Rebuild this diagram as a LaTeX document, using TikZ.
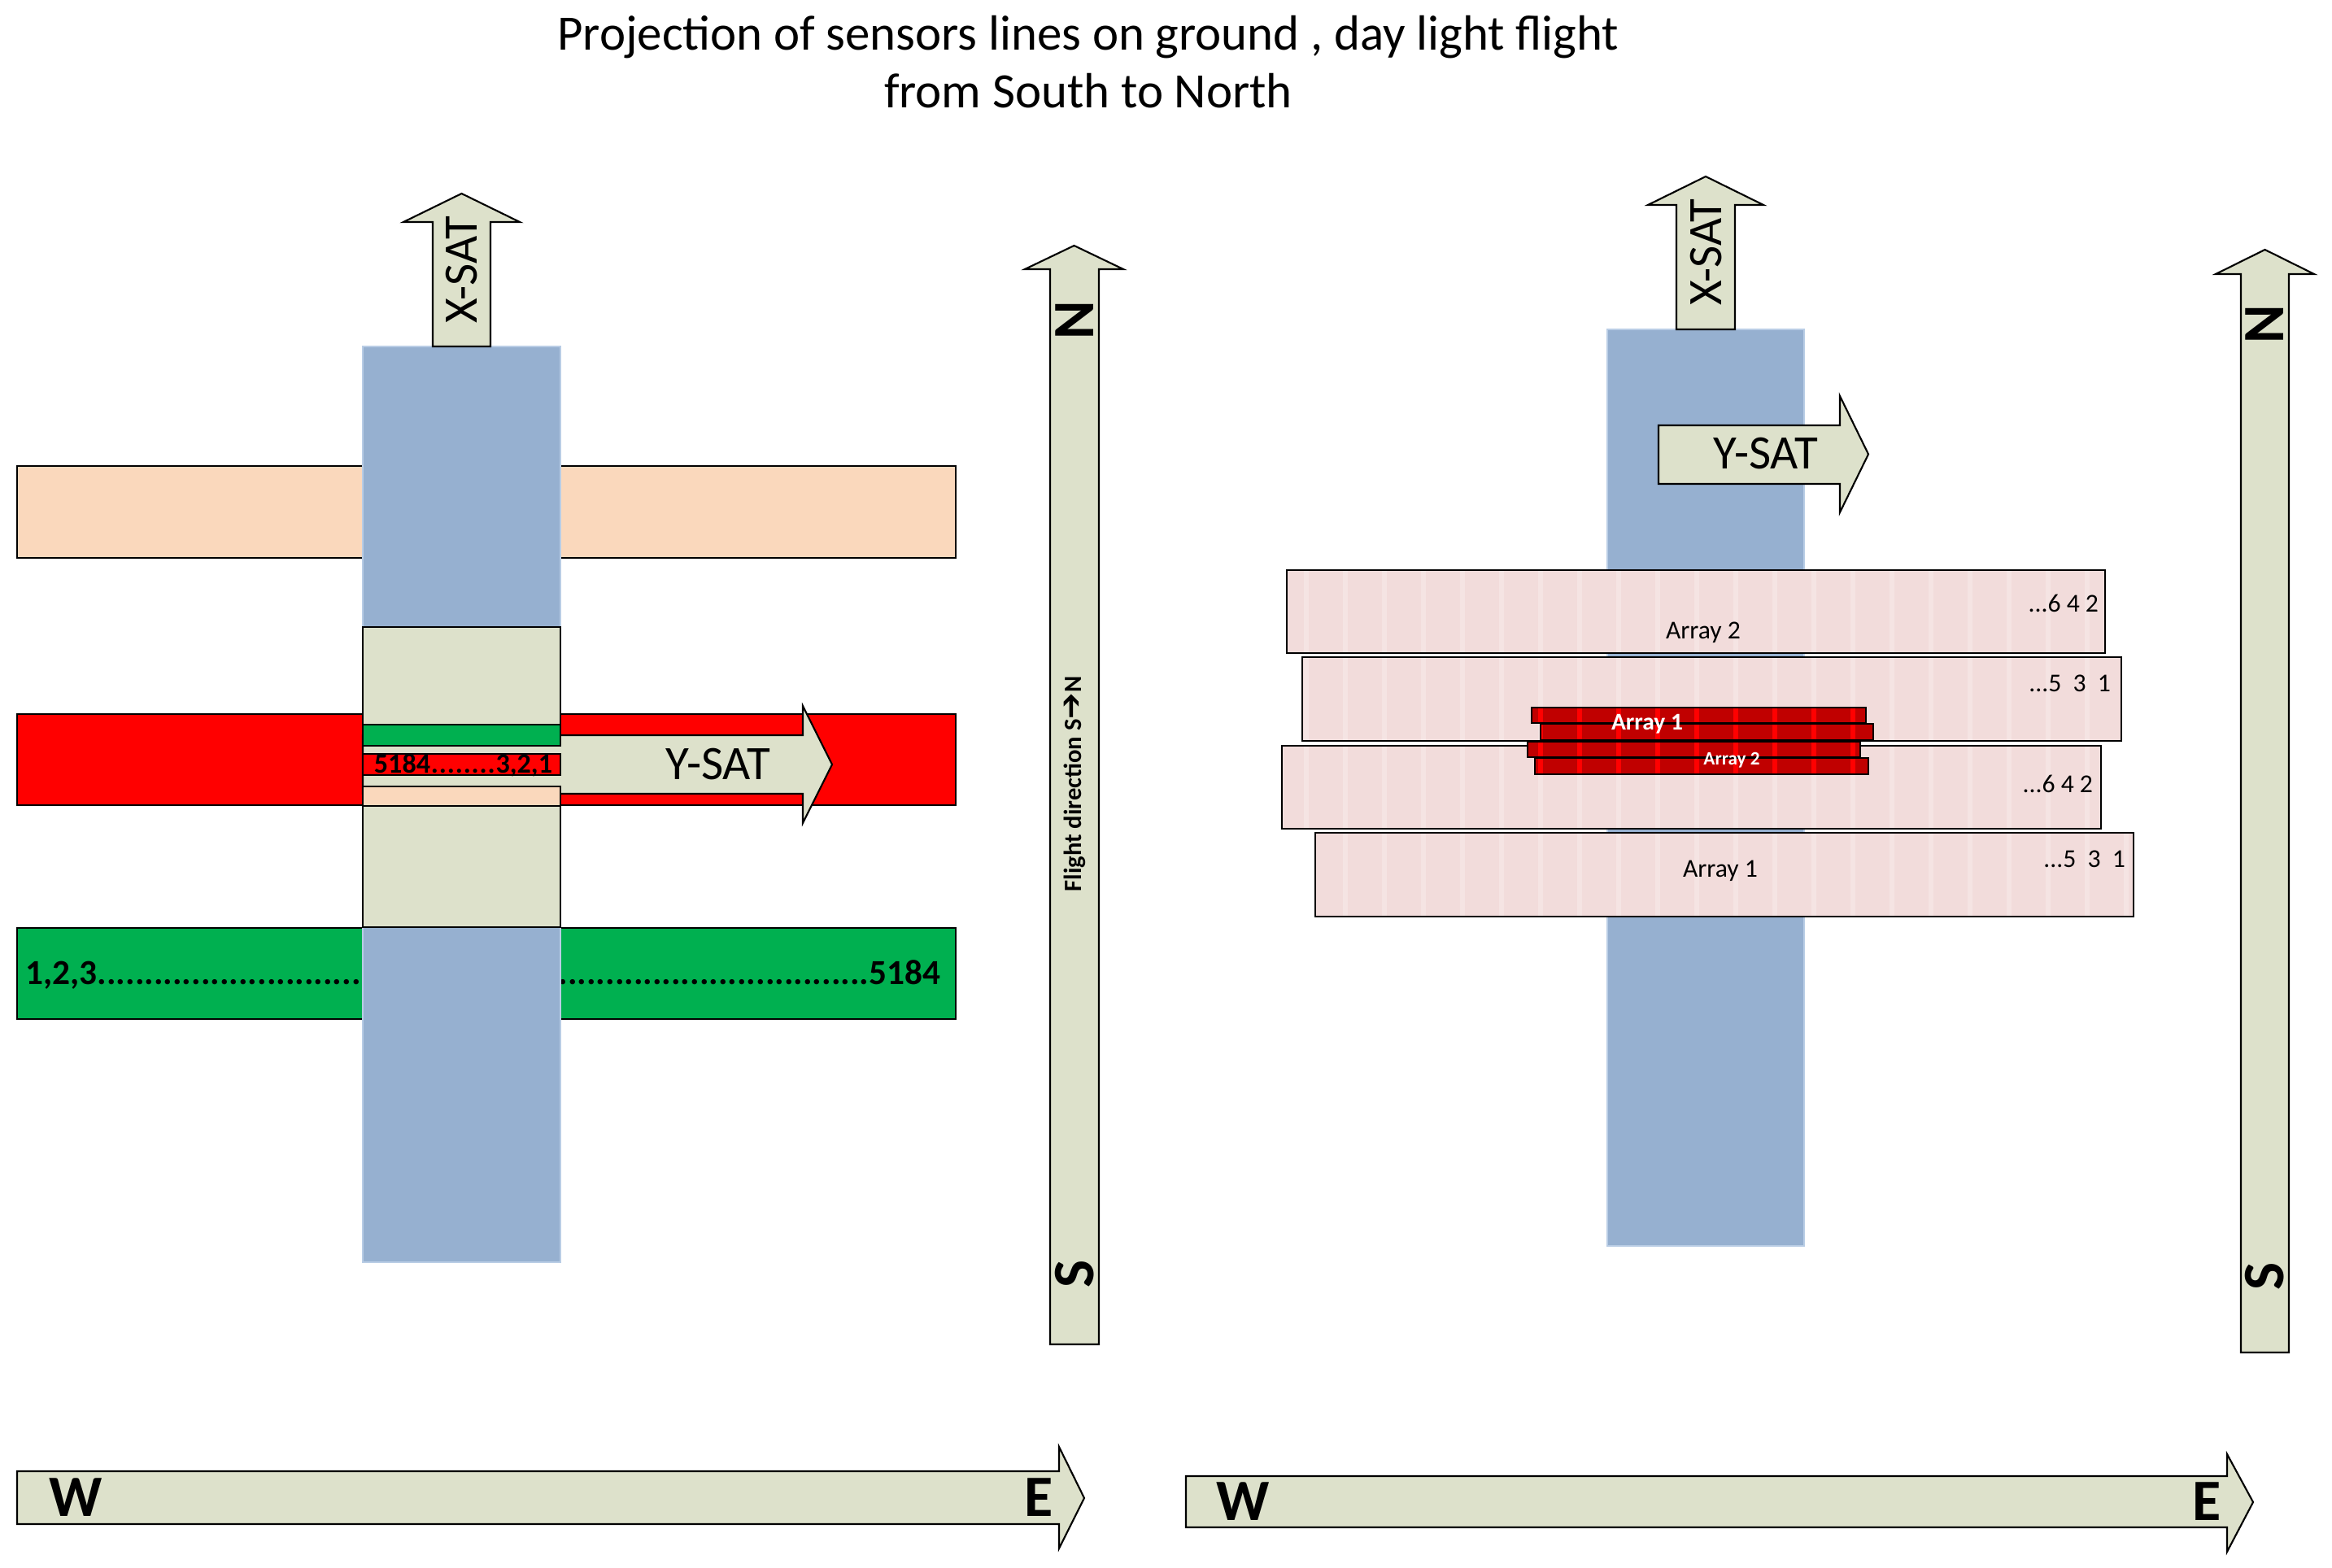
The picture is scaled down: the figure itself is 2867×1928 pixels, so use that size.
\documentclass[tikz,border=0pt]{standalone}
\usepackage{fontspec}
\setmainfont{Carlito}
\newfontfamily\dejavu{DejaVu Sans}
\definecolor{beige}{HTML}{DDE1CB}
\definecolor{bluecol}{HTML}{96B0D0}
\definecolor{bluebord}{HTML}{B9CDE5}
\definecolor{peach}{HTML}{FAD8BC}
\definecolor{redbar}{HTML}{FF0000}
\definecolor{greenbar}{HTML}{00B050}
\definecolor{pinkbox}{HTML}{F2DCDB}
\definecolor{pinkstripe}{HTML}{F5E4E3}
\definecolor{darkred}{HTML}{C00000}
\newcommand{\stripedbox}[7]{%
  \begin{scope}
    \clip (#1,#2) rectangle (#3,#4);
    \fill[#5] (#1,#2) rectangle (#3,#4);
    \foreach \sx in {1606,1654,...,2662} {\fill[#6] (\sx-3,#2) rectangle (\sx+3,#4);}
  \end{scope}
  \draw[line width=#7] (#1,#2) rectangle (#3,#4);
}
\begin{document}
\begin{tikzpicture}[x=0.01cm,y=-0.01cm,line join=miter,
  txt/.style={inner sep=0pt,outer sep=0pt},
  beigeshape/.style={fill=beige,draw=black,line width=0.6pt},
  barbox/.style={draw=black,line width=0.6pt},
  bluecolumn/.style={fill=bluecol,draw=bluebord,line width=0.8pt},
  satfont/.style={font=\fontsize{16.8}{20}\selectfont},
  compass/.style={font=\fontsize{20.5}{24}\selectfont\bfseries},
  arrlabel/.style={font=\fontsize{9}{11}\selectfont}]
\useasboundingbox (0,0) rectangle (2867,1928);

% ---------- title ----------
\node[txt,font=\fontsize{17.3}{20}\selectfont,anchor=base] (title1) at (1338,62) {Projection of sensors lines on ground , day light flight};
\node[txt,font=\fontsize{17.3}{20}\selectfont,anchor=base] (title2) at (1338,133) {from South to North};

% ================= LEFT PANEL =================
\fill[peach] (21,573) rectangle (1175,686);
\draw[barbox] (21,573) rectangle (1175,686);
\fill[redbar] (21,878) rectangle (1175,990);
\draw[barbox] (21,878) rectangle (1175,990);
\fill[greenbar] (21,1141) rectangle (1175,1253);
\draw[barbox] (21,1141) rectangle (1175,1253);
\node[txt,font=\fontsize{12.3}{14}\selectfont\bfseries,anchor=base] (seq) at (594,1210)
  {\makebox[11.24cm]{1,2,3\xleaders\hbox{.}\hfill5184}};

% blue column
\filldraw[bluecolumn] (446,426) rectangle (689,1552);

% X-SAT arrow (left)
\draw[beigeshape] (532,426) -- (532,273) -- (496,273) -- (567.5,238) -- (639,273) -- (603,273) -- (603,426) -- cycle;
\node[txt,satfont,rotate=90] (xsatL) at (567.5,332) {X-SAT};

% Y-SAT arrow (left)
\draw[beigeshape] (446,904) -- (987,904) -- (987,868) -- (1023,940) -- (987,1012) -- (987,976) -- (446,976) -- cycle;
\node[txt,satfont] (ysatL) at (883,940) {Y-SAT};

% upper beige box with green strip
\draw[beigeshape] (446,771) rectangle (689,917);
\draw[barbox,fill=greenbar] (446,891) rectangle (689,917);
% red strip
\draw[barbox,fill=redbar] (446,927) rectangle (689,953);
\node[txt,font=\fontsize{9.7}{11}\selectfont\bfseries,anchor=base] (seqrev) at (569.5,950)
  {\makebox[2.19cm]{5184\xleaders\hbox{.}\hfill3,2,1}};
% lower beige box with peach strip
\draw[beigeshape] (446,967) rectangle (689,1140);
\draw[barbox,fill=peach] (446,967) rectangle (689,991);

% N-S arrow (left)
\draw[beigeshape] (1291,1653) -- (1291,331) -- (1260,331) -- (1320.5,302) -- (1381,331) -- (1351,331) -- (1351,1653) -- cycle;
\node[txt,compass,rotate=90] (nL) at (1321,394) {N};
\node[txt,compass,rotate=90] (sL) at (1321,1566) {S};
\node[txt,font=\fontsize{8.7}{10}\selectfont\bfseries,rotate=90] (flight) at (1321,964)
  {Flight direction S{\dejavu\bfseries\fontsize{11}{11}\selectfont ➔}N};

% W-E arrow (left)
\draw[beigeshape] (21,1809) -- (1302,1809) -- (1302,1779) -- (1333,1842) -- (1302,1904) -- (1302,1874) -- (21,1874) -- cycle;
\node[txt,compass] (wL) at (93,1841) {W};
\node[txt,compass] (eL) at (1277,1841) {E};

% ================= RIGHT PANEL =================
\filldraw[bluecolumn] (1976,405) rectangle (2218,1532);

% X-SAT arrow (right)
\draw[beigeshape] (2061,405) -- (2061,252) -- (2026,252) -- (2097,217) -- (2168,252) -- (2133,252) -- (2133,405) -- cycle;
\node[txt,satfont,rotate=90] (xsatR) at (2097,310) {X-SAT};

% Y-SAT arrow (right)
\draw[beigeshape] (2039,523) -- (2262,523) -- (2262,487) -- (2297,558.5) -- (2262,630) -- (2262,595) -- (2039,595) -- cycle;
\node[txt,satfont] (ysatR) at (2171,558) {Y-SAT};

% pink array boxes
\stripedbox{1582}{701}{2588}{803}{pinkbox}{pinkstripe}{0.6pt}
\node[txt,arrlabel,anchor=base] (a2top) at (2094,785) {Array 2};
\node[txt,arrlabel,anchor=base east] (n642a) at (2580,752) {...6 4 2};

\stripedbox{1601}{808}{2608}{911}{pinkbox}{pinkstripe}{0.6pt}
\node[txt,arrlabel,anchor=base east] (n531a) at (2595,850) {...5\ \ 3\ \ 1};

\stripedbox{1576}{917}{2583}{1019}{pinkbox}{pinkstripe}{0.6pt}
\node[txt,arrlabel,anchor=base east] (n642b) at (2573,974) {...6 4 2};

\stripedbox{1617}{1024}{2623}{1127}{pinkbox}{pinkstripe}{0.6pt}
\node[txt,arrlabel,anchor=base] (a1bot) at (2115,1078) {Array 1};
\node[txt,arrlabel,anchor=base east] (n531b) at (2613,1066) {...5\ \ 3\ \ 1};

% red array strips
\stripedbox{1883}{870}{2294}{889}{darkred}{redbar}{0.8pt}
\stripedbox{1894}{890}{2303}{910}{darkred}{redbar}{0.8pt}
\stripedbox{1878}{912}{2287}{931}{darkred}{redbar}{0.8pt}
\stripedbox{1887}{932}{2297}{952}{darkred}{redbar}{0.8pt}
\node[txt,font=\fontsize{8.4}{10}\selectfont\bfseries,text=white,anchor=base] (a1red) at (2025,897) {Array 1};
\node[txt,font=\fontsize{6.6}{8}\selectfont\bfseries,text=white,anchor=base] (a2red) at (2129,940) {Array 2};

% N-S arrow (right)
\draw[beigeshape] (2755,1663) -- (2755,337) -- (2724,337) -- (2784.5,307) -- (2845,337) -- (2814,337) -- (2814,1663) -- cycle;
\node[txt,compass,rotate=90] (nR) at (2784.5,399) {N};
\node[txt,compass,rotate=90] (sR) at (2784.5,1569) {S};

% W-E arrow (right)
\draw[beigeshape] (1458,1815) -- (2738,1815) -- (2738,1788) -- (2770,1847) -- (2738,1908) -- (2738,1878) -- (1458,1878) -- cycle;
\node[txt,compass] (wR) at (1528,1846) {W};
\node[txt,compass] (eR) at (2713,1846) {E};
\end{tikzpicture}
\end{document}
